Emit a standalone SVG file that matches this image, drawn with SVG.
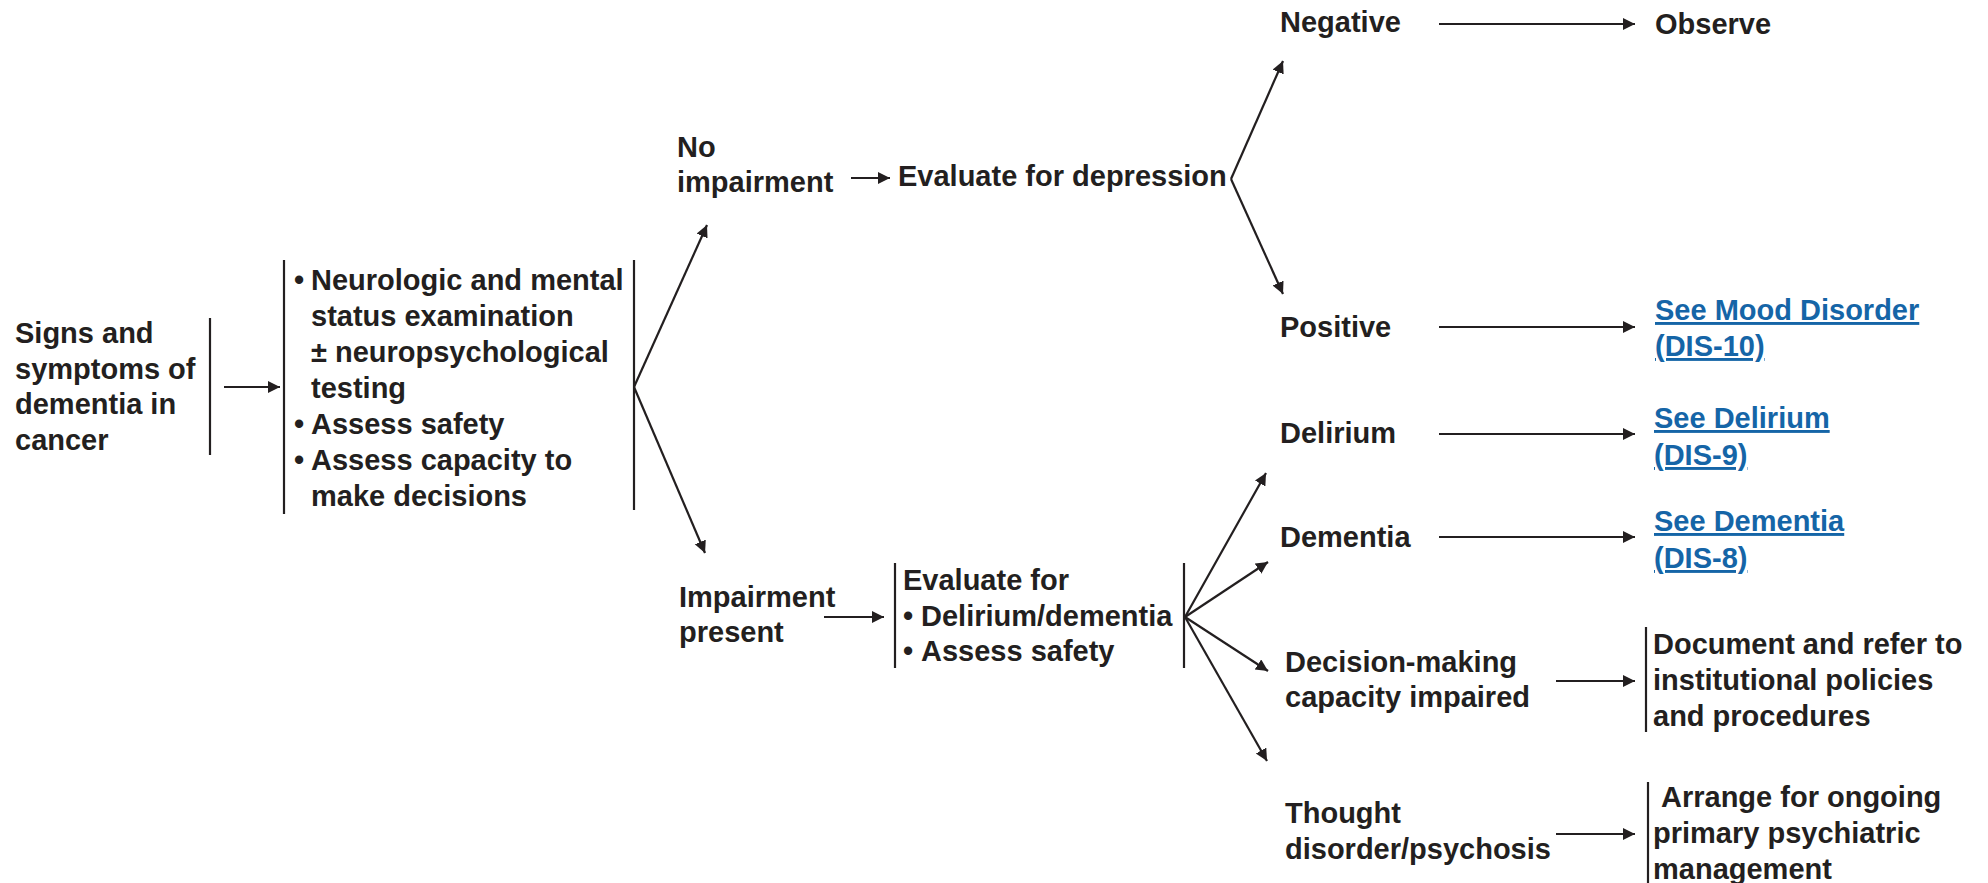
<svg xmlns="http://www.w3.org/2000/svg" width="1988" height="883" viewBox="0 0 1988 883">
  <style>
    text { font-family: "Liberation Sans", Arial, sans-serif; font-weight: bold; font-size: 29px; fill: #231f20; }
    text.link { fill: #1565a7; text-decoration: underline; }
    .ln { stroke: #231f20; stroke-width: 2.2; fill: none; }
    .ar { stroke: #231f20; stroke-width: 2.2; fill: none; marker-end: url(#ah); }
  </style>
  <defs>
    <marker id="ah" markerUnits="userSpaceOnUse" markerWidth="14" markerHeight="14" refX="12" refY="6" orient="auto">
      <path d="M0,0 L12,6 L0,12 z" fill="#231f20"/>
    </marker>
  </defs>
  <rect width="1988" height="883" fill="#ffffff"/>

  <g id="connectors">
    <line class="ar" x1="224" y1="387" x2="280" y2="387"/>
    <line class="ar" x1="634" y1="387" x2="707" y2="225"/>
    <line class="ar" x1="634" y1="387" x2="705" y2="553"/>
    <line class="ar" x1="851" y1="178" x2="890" y2="178"/>
    <line class="ar" x1="1231" y1="179" x2="1283" y2="61"/>
    <line class="ar" x1="1231" y1="179" x2="1283" y2="294"/>
    <line class="ar" x1="1439" y1="24" x2="1635" y2="24"/>
    <line class="ar" x1="1439" y1="327" x2="1635" y2="327"/>
    <line class="ar" x1="824" y1="617" x2="884" y2="617"/>
    <line class="ar" x1="1185" y1="617" x2="1266" y2="473"/>
    <line class="ar" x1="1185" y1="617" x2="1268" y2="562"/>
    <line class="ar" x1="1185" y1="617" x2="1268" y2="671"/>
    <line class="ar" x1="1185" y1="617" x2="1267" y2="761"/>
    <line class="ar" x1="1439" y1="434" x2="1635" y2="434"/>
    <line class="ar" x1="1439" y1="537" x2="1635" y2="537"/>
    <line class="ar" x1="1556" y1="681" x2="1635" y2="681"/>
    <line class="ar" x1="1556" y1="834" x2="1635" y2="834"/>
  </g>

  <g id="n-signs">
    <text x="15" y="343">Signs and<tspan x="15" dy="35.5">symptoms of</tspan><tspan x="15" dy="35.5">dementia in</tspan><tspan x="15" dy="35.5">cancer</tspan></text>
    <line class="ln" x1="210" y1="318" x2="210" y2="455"/>
  </g>

  <g id="n-assess">
    <line class="ln" x1="284" y1="260" x2="284" y2="514"/>
    <line class="ln" x1="634" y1="260" x2="634" y2="510"/>
    <text x="294" y="290">•<tspan x="311">Neurologic and mental</tspan><tspan x="311" dy="36">status examination</tspan><tspan x="311" dy="36">± neuropsychological</tspan><tspan x="311" dy="36">testing</tspan><tspan x="294" dy="36">•</tspan><tspan x="311">Assess safety</tspan><tspan x="294" dy="36">•</tspan><tspan x="311">Assess capacity to</tspan><tspan x="311" dy="36">make decisions</tspan></text>
  </g>

  <g id="n-noimp">
    <text x="677" y="157">No<tspan x="677" dy="35">impairment</tspan></text>
  </g>

  <g id="n-evaldep">
    <text x="898" y="186">Evaluate for depression</text>
  </g>

  <g id="n-negative"><text x="1280" y="32">Negative</text></g>
  <g id="n-observe"><text x="1655" y="34">Observe</text></g>
  <g id="n-positive"><text x="1280" y="337">Positive</text></g>
  <g id="n-mood"><text class="link" x="1655" y="320">See Mood Disorder</text><text class="link" x="1655" y="356">(DIS-10)</text></g>

  <g id="n-imp">
    <text x="679" y="607">Impairment<tspan x="679" dy="35">present</tspan></text>
  </g>

  <g id="n-evalfor">
    <line class="ln" x1="895" y1="563" x2="895" y2="668"/>
    <line class="ln" x1="1184" y1="563" x2="1184" y2="668"/>
    <text x="903" y="590">Evaluate for<tspan x="903" dy="35.5">•</tspan><tspan x="921">Delirium/dementia</tspan><tspan x="903" dy="35">•</tspan><tspan x="921">Assess safety</tspan></text>
  </g>

  <g id="n-delirium"><text x="1280" y="443">Delirium</text></g>
  <g id="n-seedel"><text class="link" x="1654" y="428">See Delirium</text><text class="link" x="1654" y="465">(DIS-9)</text></g>
  <g id="n-dementia"><text x="1280" y="547">Dementia</text></g>
  <g id="n-seedem"><text class="link" x="1654" y="531">See Dementia</text><text class="link" x="1654" y="568">(DIS-8)</text></g>

  <g id="n-decision">
    <text x="1285" y="672">Decision-making<tspan x="1285" dy="35">capacity impaired</tspan></text>
  </g>
  <g id="n-document">
    <line class="ln" x1="1646" y1="627" x2="1646" y2="732"/>
    <text x="1653" y="654">Document and refer to<tspan x="1653" dy="36">institutional policies</tspan><tspan x="1653" dy="36">and procedures</tspan></text>
  </g>

  <g id="n-thought">
    <text x="1285" y="823">Thought<tspan x="1285" dy="36">disorder/psychosis</tspan></text>
  </g>
  <g id="n-arrange">
    <line class="ln" x1="1648" y1="782" x2="1648" y2="883"/>
    <text x="1661" y="807">Arrange for ongoing<tspan x="1653" dy="36">primary psychiatric</tspan><tspan x="1653" dy="36">management</tspan></text>
  </g>
</svg>
